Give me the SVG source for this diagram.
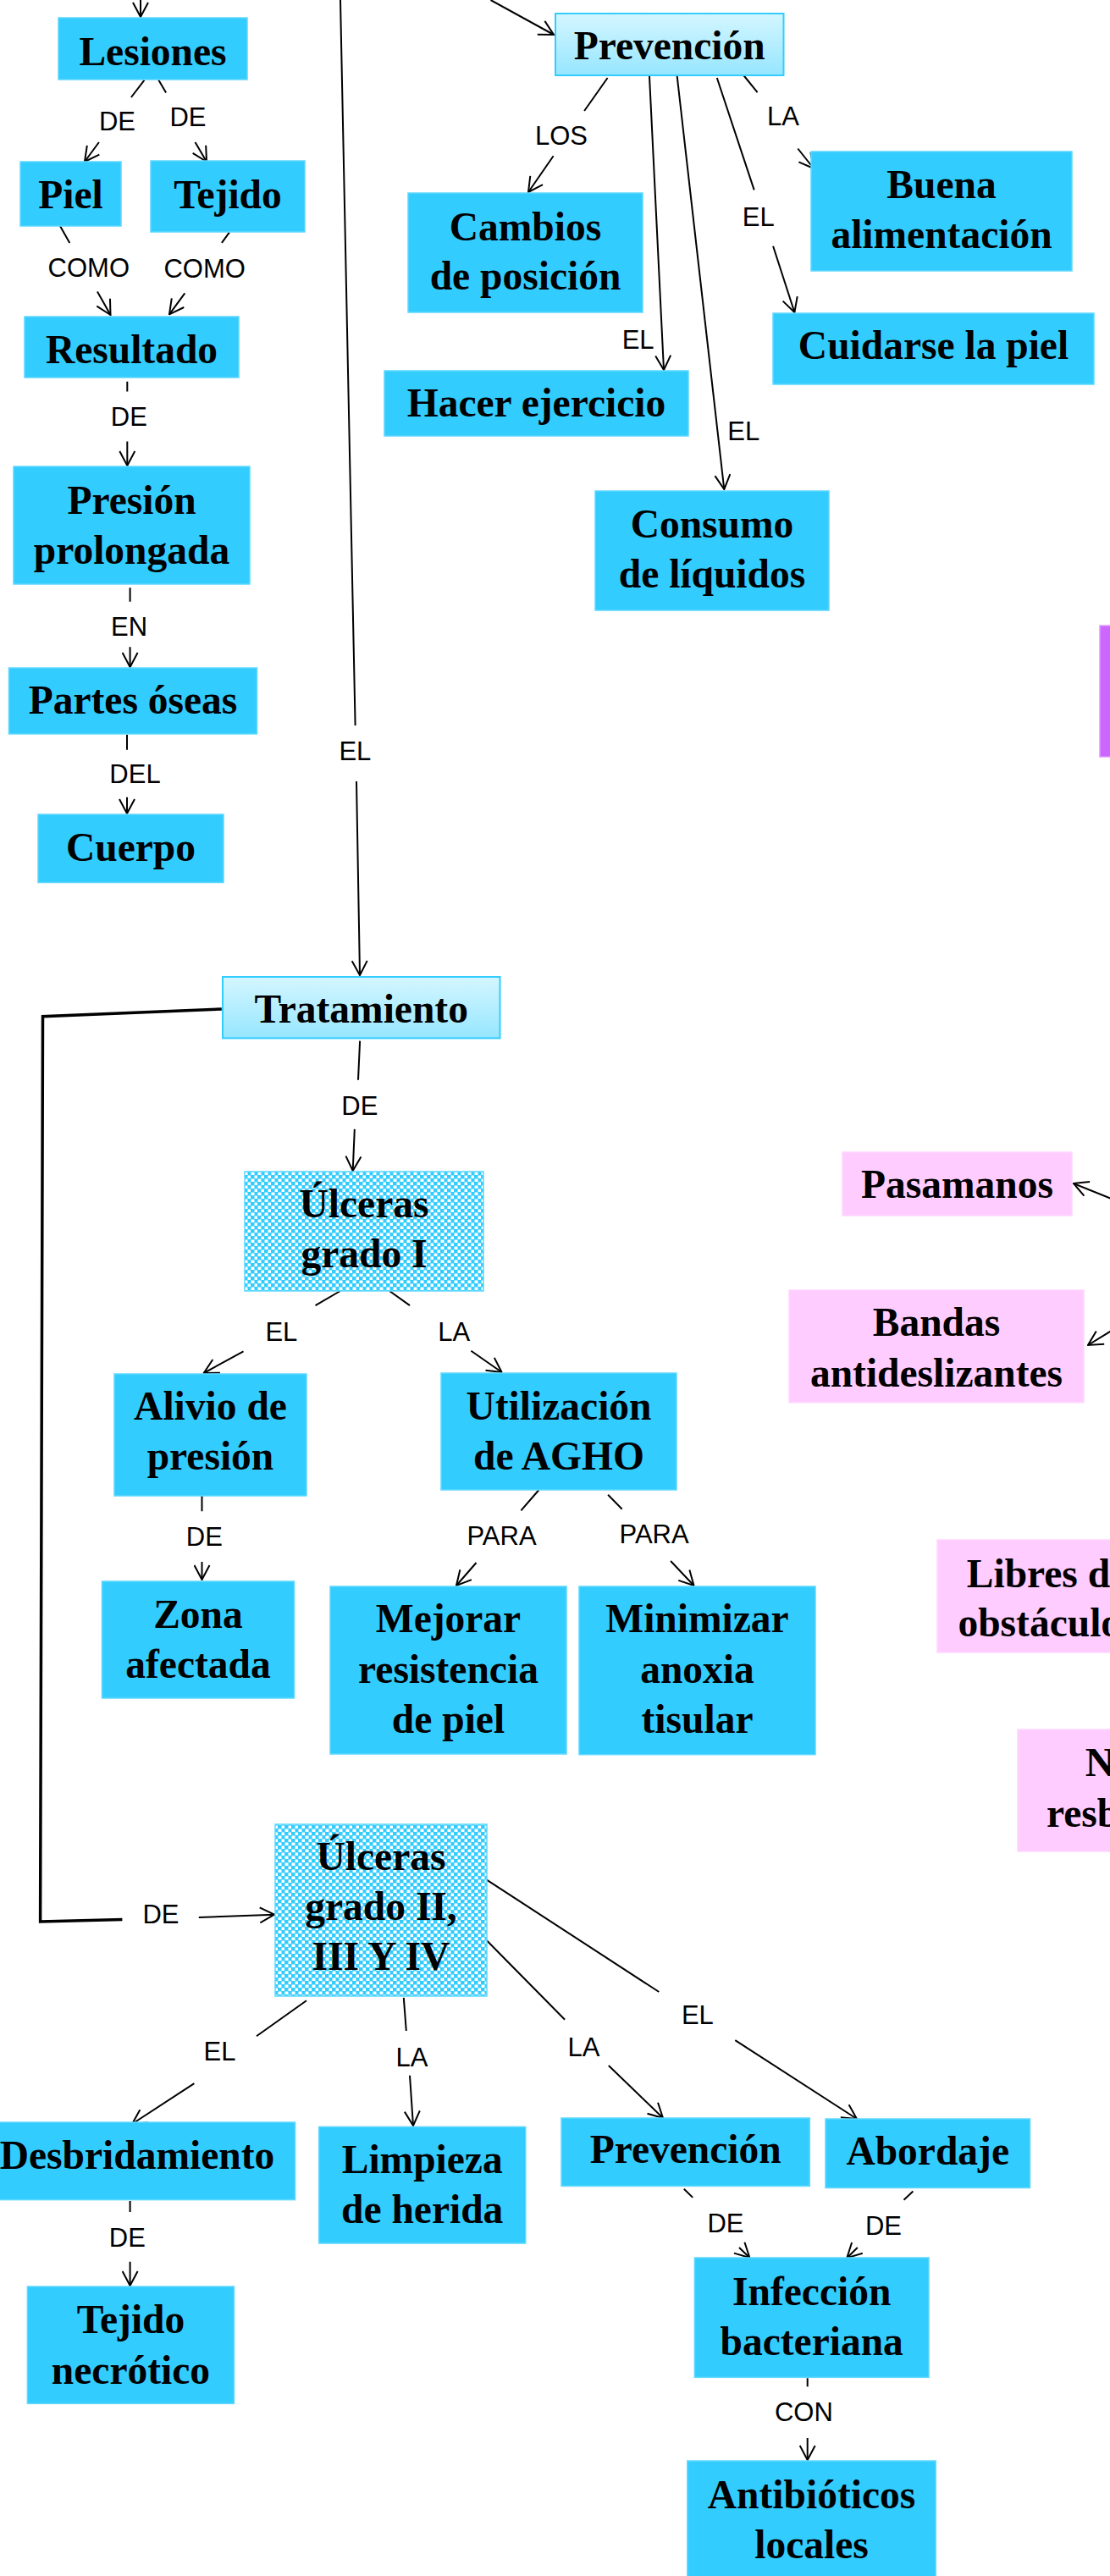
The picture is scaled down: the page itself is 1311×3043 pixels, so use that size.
<svg xmlns="http://www.w3.org/2000/svg" width="1311" height="3043" viewBox="0 0 1311 3043">
<defs>
<style>
.n{fill:#33ccff;stroke:#5fd8ff;stroke-width:1.5}
.p{fill:#ffccff;stroke:#ffd6ff;stroke-width:1.5}
.g{fill:url(#grad);stroke:#33ccff;stroke-width:2}
.q{fill:url(#chk);stroke:#5fd8ff;stroke-width:1.5}
.t{font-family:"Liberation Serif","Times New Roman",serif;font-weight:bold;font-size:47.5px;text-anchor:middle;fill:#000}
.ts{font-family:"Liberation Serif","Times New Roman",serif;font-weight:bold;font-size:47.5px;text-anchor:start;fill:#000}
.l{font-family:"Liberation Sans",Arial,sans-serif;font-size:31px;text-anchor:middle;fill:#000}
.c{fill:none;stroke:#000;stroke-width:2}
.ca{fill:none;stroke:#000;stroke-width:2;marker-end:url(#a)}
.cb{fill:none;stroke:#000;stroke-width:3.5}
</style>
<linearGradient id="grad" x1="0" y1="0" x2="0" y2="1">
<stop offset="0" stop-color="#d4f6ff"/>
<stop offset="1" stop-color="#96e6ff"/>
</linearGradient>
<pattern id="chk" width="8" height="8" patternUnits="userSpaceOnUse">
<rect width="8" height="8" fill="#33ccff"/>
<rect x="0.5" y="0.5" width="4" height="3.5" fill="#ffffff"/>
<rect x="4.5" y="4.5" width="3.5" height="3.5" fill="#ffffff"/>
</pattern>
<marker id="a" viewBox="0 0 20 20" markerWidth="20" markerHeight="20" refX="19" refY="10" orient="auto" markerUnits="userSpaceOnUse">
<path d="M2,1 L19,10 L2,19" fill="none" stroke="#000" stroke-width="2"/>
</marker>
</defs>
<rect width="1311" height="3043" fill="#ffffff"/>

<g id="connectors">
<path class="ca" d="M166,0 L166,20"/>
<path class="ca" d="M170.5,94.6 L154.9,115 M116.9,168 L100,191"/>
<path class="ca" d="M187.3,94.6 L196.1,109.6 M230.5,168 L244,191"/>
<path class="ca" d="M71,267 L82.3,287 M115,344.6 L130.5,372"/>
<path class="ca" d="M271,274.3 L261.9,286.8 M218.3,346.4 L200,371.4"/>
<path class="ca" d="M150.3,450.7 L150.3,462.5 M150.3,521.4 L150.3,550"/>
<path class="ca" d="M153.6,694.3 L153.6,710.7 M153.6,764.3 L153.6,788"/>
<path class="ca" d="M150,868 L150,885.7 M150,941.8 L150,961"/>
<path class="ca" d="M402,0 L419.6,857 M421,923 L425,1152"/>
<path class="ca" d="M579.5,0 L654,41"/>
<path class="ca" d="M717.6,92 L690.1,131 M653.6,184.2 L624,227"/>
<path class="ca" d="M767,90 L784,437"/>
<path class="ca" d="M799.7,90 L855.3,578"/>
<path class="ca" d="M846.8,92 L890.7,224.4 M913.1,290.8 L938.4,369"/>
<path class="ca" d="M878.3,89 L894.6,109.1 M942.3,175.5 L961,199"/>
<path class="cb" d="M261.8,1192 L50.5,1200.7 L47.6,2270 L144.4,2267.5"/>
<path class="ca" d="M234.8,2265 L324,2261.7"/>
<path class="ca" d="M425.1,1229.6 L423,1275.7 M418.8,1333.9 L416.7,1383"/>
<path class="ca" d="M401.9,1525 L372.5,1542.1 M287.5,1596.4 L240.7,1622"/>
<path class="ca" d="M460,1525 L484,1542.1 M556.4,1595.7 L592.6,1621"/>
<path class="ca" d="M238.5,1767 L238.5,1785.3 M238.5,1845 L238.5,1866"/>
<path class="ca" d="M636.5,1760 L615.4,1784.3 M562.5,1846 L539,1873"/>
<path class="ca" d="M718.1,1765.7 L734.7,1782.7 M792.1,1844 L819.5,1873"/>
<path class="ca" d="M1320,1419 L1268,1398"/>
<path class="ca" d="M1320,1567.5 L1285,1589"/>
<path class="ca" d="M362,2363.2 L303,2405.3 M229.4,2461.2 L156,2509"/>
<path class="ca" d="M476.8,2359.8 L479.8,2399 M484,2451.7 L488,2511"/>
<path class="ca" d="M153.6,2600 L153.6,2613 M153.6,2671.8 L153.6,2700"/>
<path class="ca" d="M571.4,2218.4 L778.3,2353 M868.3,2410.2 L1012,2503"/>
<path class="ca" d="M572.4,2289.8 L667.1,2385.7 M718.8,2440 L783,2502"/>
<path class="ca" d="M807.8,2585.7 L818.2,2595.9 M873,2655 L885.4,2667"/>
<path class="ca" d="M1078.4,2588.6 L1067.5,2598.8 M1012.8,2655 L1000.3,2667.3"/>
<path class="ca" d="M953.7,2809.3 L953.7,2819.3 M953.7,2880 L953.7,2906"/>

<g id="labels">
<text class="l" x="138.5" y="154">DE</text>
<text class="l" x="222" y="149">DE</text>
<text class="l" x="104.8" y="326.8">COMO</text>
<text class="l" x="241.6" y="327.7">COMO</text>
<text class="l" x="152.3" y="502.5">DE</text>
<text class="l" x="152.5" y="750.5">EN</text>
<text class="l" x="159.5" y="925">DEL</text>
<text class="l" x="419.4" y="898">EL</text>
<text class="l" x="663" y="171.2">LOS</text>
<text class="l" x="925" y="148">LA</text>
<text class="l" x="895.7" y="266.7">EL</text>
<text class="l" x="753.6" y="412">EL</text>
<text class="l" x="878.3" y="519.7">EL</text>
<text class="l" x="424.8" y="1316.5">DE</text>
<text class="l" x="332.4" y="1583.8">EL</text>
<text class="l" x="536.2" y="1583.8">LA</text>
<text class="l" x="241.3" y="1825.8">DE</text>
<text class="l" x="592.5" y="1824.8">PARA</text>
<text class="l" x="772.6" y="1823">PARA</text>
<text class="l" x="190" y="2272">DE</text>
<text class="l" x="259.5" y="2433.6">EL</text>
<text class="l" x="486.5" y="2440.5">LA</text>
<text class="l" x="150.4" y="2654">DE</text>
<text class="l" x="823.9" y="2391">EL</text>
<text class="l" x="689.5" y="2429">LA</text>
<text class="l" x="857" y="2636.6">DE</text>
<text class="l" x="1043.5" y="2639.7">DE</text>
<text class="l" x="949.4" y="2859.8">CON</text>
</g>
</g>

<g id="n-lesiones"><rect class="n" x="69" y="21" width="223" height="73"/><text class="t" x="180.5" y="77">Lesiones</text></g>
<g id="n-piel"><rect class="n" x="24" y="191" width="119" height="76"/><text class="t" x="83.5" y="246">Piel</text></g>
<g id="n-tejido"><rect class="n" x="178" y="190" width="182" height="84"/><text class="t" x="269" y="246">Tejido</text></g>
<g id="n-resultado"><rect class="n" x="29" y="374" width="253" height="72"/><text class="t" x="155.5" y="428.6">Resultado</text></g>
<g id="n-presion"><rect class="n" x="16" y="551" width="279" height="139"/><text class="t" x="155.5" y="607">Presión</text><text class="t" x="155.5" y="666">prolongada</text></g>
<g id="n-partes"><rect class="n" x="10.5" y="789" width="293" height="78"/><text class="t" x="157" y="843">Partes óseas</text></g>
<g id="n-cuerpo"><rect class="n" x="45" y="962" width="219" height="80.5"/><text class="t" x="154.5" y="1017">Cuerpo</text></g>
<g id="n-prevencion"><rect class="g" x="656" y="16" width="269.5" height="73"/><text class="t" x="790.7" y="70.3">Prevención</text></g>
<g id="n-cambios"><rect class="n" x="482" y="228" width="277" height="141"/><text class="t" x="620.5" y="283.6">Cambios</text><text class="t" x="620.5" y="341.7">de posición</text></g>
<g id="n-hacer"><rect class="n" x="454" y="438" width="359" height="77"/><text class="t" x="633.5" y="492">Hacer ejercicio</text></g>
<g id="n-consumo"><rect class="n" x="703" y="580" width="276" height="141"/><text class="t" x="841" y="635">Consumo</text><text class="t" x="841" y="694">de líquidos</text></g>
<g id="n-cuidarse"><rect class="n" x="913" y="370" width="379" height="84"/><text class="t" x="1102.5" y="424">Cuidarse la piel</text></g>
<g id="n-buena"><rect class="n" x="958" y="179" width="308" height="141"/><text class="t" x="1112" y="234">Buena</text><text class="t" x="1112" y="293">alimentación</text></g>
<g id="n-morado"><rect x="1299" y="739" width="30" height="155" fill="#cc66ff" stroke="#dd99ff" stroke-width="1.5"/></g>
<g id="n-tratamiento"><rect class="g" x="263" y="1154" width="327.5" height="72.4"/><text class="t" x="426.7" y="1208">Tratamiento</text></g>
<g id="n-ulceras1"><rect class="q" x="289" y="1384" width="282" height="141"/><text class="t" x="430" y="1437.5">Úlceras</text><text class="t" x="430" y="1497">grado I</text></g>
<g id="n-alivio"><rect class="n" x="135" y="1623" width="227" height="144"/><text class="t" x="248.5" y="1677">Alivio de</text><text class="t" x="248.5" y="1736">presión</text></g>
<g id="n-utilizacion"><rect class="n" x="521" y="1622" width="278" height="138"/><text class="t" x="660" y="1677">Utilización</text><text class="t" x="660" y="1736">de AGHO</text></g>
<g id="n-zona"><rect class="n" x="120.5" y="1868" width="227" height="138"/><text class="t" x="234" y="1923">Zona</text><text class="t" x="234" y="1981.7">afectada</text></g>
<g id="n-mejorar"><rect class="n" x="390" y="1874" width="279" height="198"/><text class="t" x="529.5" y="1928">Mejorar</text><text class="t" x="529.5" y="1988">resistencia</text><text class="t" x="529.5" y="2046.7">de piel</text></g>
<g id="n-minimizar"><rect class="n" x="684" y="1874" width="279" height="198.7"/><text class="t" x="823.5" y="1928">Minimizar</text><text class="t" x="823.5" y="1988">anoxia</text><text class="t" x="823.5" y="2046.7">tisular</text></g>
<g id="n-pasamanos"><rect class="p" x="995" y="1361" width="271" height="75"/><text class="t" x="1130.5" y="1415">Pasamanos</text></g>
<g id="n-bandas"><rect class="p" x="932" y="1524" width="348" height="132.7"/><text class="t" x="1106" y="1578">Bandas</text><text class="t" x="1106" y="1638">antideslizantes</text></g>
<g id="n-libres"><rect class="p" x="1107" y="1819" width="260" height="133"/><text class="t" x="1237" y="1875">Libres de</text><text class="t" x="1237" y="1933">obstáculos</text></g>
<g id="n-resb"><rect class="p" x="1202" y="2043" width="200" height="144"/><text class="ts" x="1281.7" y="2098">N</text><text class="ts" x="1236" y="2158">resb</text></g>
<g id="n-ulceras2"><rect class="q" x="325" y="2155" width="250" height="203"/><text class="t" x="450" y="2209">Úlceras</text><text class="t" x="450" y="2267.5">grado II,</text><text class="t" x="450" y="2327">III Y IV</text></g>
<g id="n-desbridamiento"><rect class="n" x="-24" y="2507" width="372.5" height="91.6"/><text class="t" x="162" y="2561.7">Desbridamiento</text></g>
<g id="n-limpieza"><rect class="n" x="376.7" y="2512.4" width="244" height="137.6"/><text class="t" x="498.7" y="2566.5">Limpieza</text><text class="t" x="498.7" y="2626">de herida</text></g>
<g id="n-tejido-necrotico"><rect class="n" x="32.4" y="2701" width="244" height="138.3"/><text class="t" x="154.5" y="2756">Tejido</text><text class="t" x="154.5" y="2815.7">necrótico</text></g>
<g id="n-prevencion2"><rect class="n" x="663" y="2502" width="293.3" height="80.4"/><text class="t" x="809.7" y="2555">Prevención</text></g>
<g id="n-abordaje"><rect class="n" x="975" y="2503" width="241.5" height="81.5"/><text class="t" x="1095.7" y="2557">Abordaje</text></g>
<g id="n-infeccion"><rect class="n" x="820.4" y="2667" width="276.6" height="141.3"/><text class="t" x="958.7" y="2722.7">Infección</text><text class="t" x="958.7" y="2781.7">bacteriana</text></g>
<g id="n-antibioticos"><rect class="n" x="811.8" y="2907" width="293.4" height="150"/><text class="t" x="958.5" y="2962.7">Antibióticos</text><text class="t" x="958.5" y="3021.7">locales</text></g>
</svg>
